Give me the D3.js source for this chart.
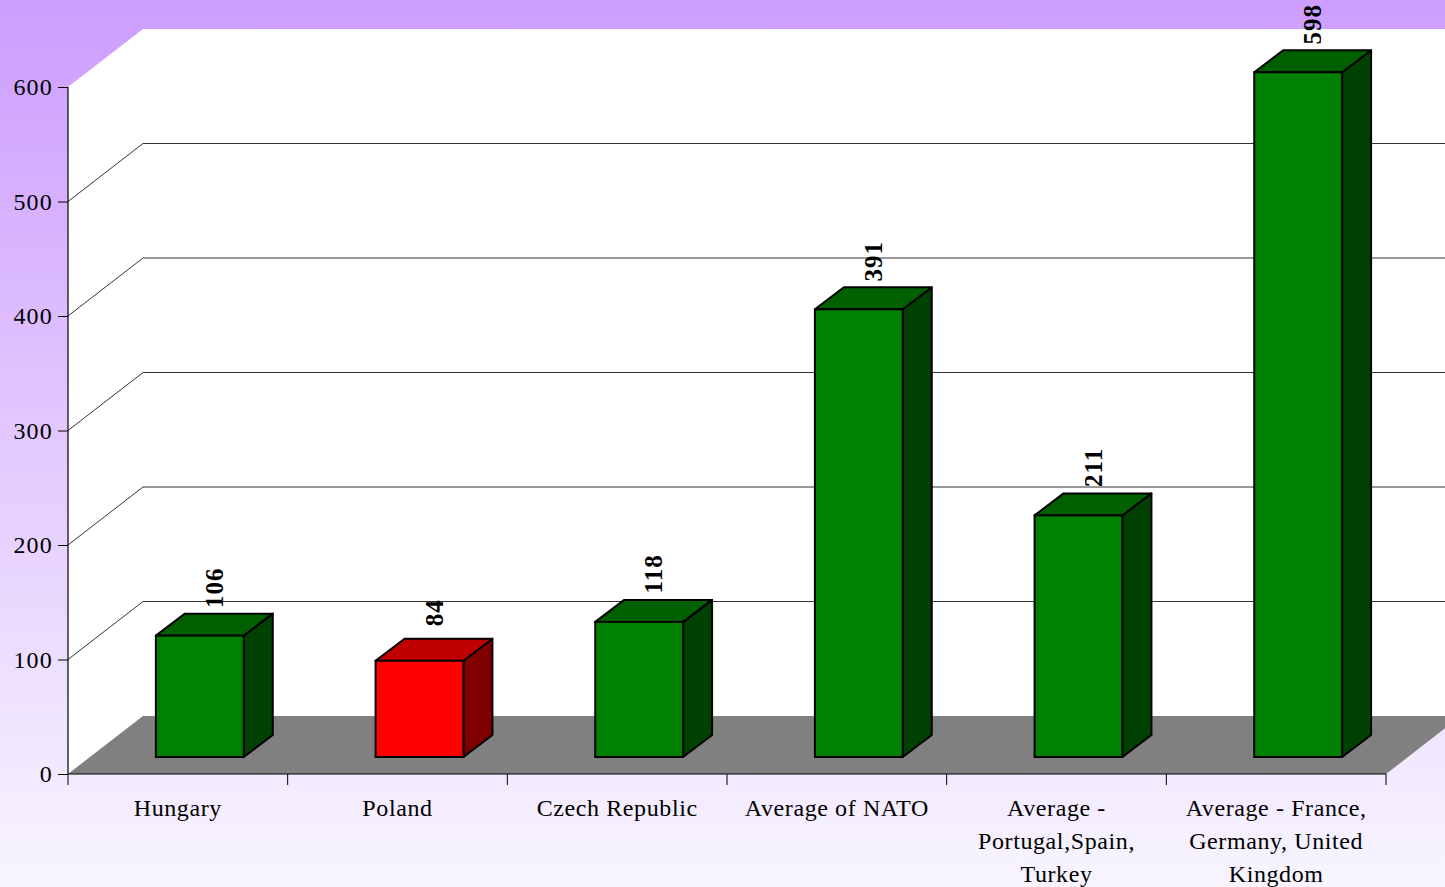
<!DOCTYPE html>
<html><head><meta charset="utf-8">
<script src="https://cdn.jsdelivr.net/npm/d3@7"></script>
<style>html,body{margin:0;padding:0;overflow:hidden;}svg{display:block;}</style>
</head><body>
<script>
const categories = ["Hungary","Poland","Czech Republic","Average of NATO","Average - Portugal,Spain, Turkey","Average - France, Germany, United Kingdom"];
const values = [106, 84, 118, 391, 211, 598];
const highlight = [false, true, false, false, false, false];
const yTicks = [0, 100, 200, 300, 400, 500, 600];

const W = 1445, H = 887;
const x0 = 68, x1 = 1386, yBottom = 774, yTop = 87;
const depthX = 75, depthY = -58;          // full 3D depth offset
const barOffX = 22, barOffY = -17;        // bar front plane offset
const barDX = 29, barDY = -22;            // bar depth

const svg = d3.select("body").append("svg").attr("width", W).attr("height", H);
const defs = svg.append("defs");
const grad = defs.append("linearGradient").attr("id","bg").attr("x1",0).attr("y1",0).attr("x2",0).attr("y2",1);
grad.append("stop").attr("offset","0").attr("stop-color","#cd9dff");
grad.append("stop").attr("offset","1").attr("stop-color","#f8f5ff");
svg.append("rect").attr("width",W).attr("height",H).attr("fill","url(#bg)");

const y = d3.scaleLinear().domain([0,600]).range([yBottom, yTop]);
const x = d3.scaleBand().domain(categories).range([x0, x1]).paddingInner(0).paddingOuter(0);
const bw = x.bandwidth() * 0.4;

// walls
svg.append("polygon").attr("points", [[x0+depthX, y(600)+depthY],[W+20, y(600)+depthY],[W+20, y(0)+depthY],[x0+depthX, y(0)+depthY]].join(" ")).attr("fill","#fff");
svg.append("polygon").attr("points", [[x0, y(600)],[x0+depthX, y(600)+depthY],[x0+depthX, y(0)+depthY],[x0, y(0)]].join(" ")).attr("fill","#fff");

// gridlines
const gl = yTicks.filter(d => d > 0 && d < 600);
svg.selectAll(".gh").data(gl).enter().append("line")
  .attr("x1", x0+depthX).attr("x2", W+20)
  .attr("y1", d => y(d)+depthY).attr("y2", d => y(d)+depthY)
  .attr("stroke","#333").attr("stroke-width",1);
svg.selectAll(".gd").data(gl).enter().append("line")
  .attr("x1", x0).attr("y1", d => y(d))
  .attr("x2", x0+depthX).attr("y2", d => y(d)+depthY)
  .attr("stroke","#333").attr("stroke-width",1);

// floor
svg.append("polygon").attr("points", [[x0, y(0)],[x0+depthX, y(0)+depthY],[x1+depthX, y(0)+depthY],[x1, y(0)]].join(" ")).attr("fill","#808080");

// axes
svg.append("line").attr("x1",x0).attr("x2",x0).attr("y1",y(600)).attr("y2",y(0)).attr("stroke","#000").attr("stroke-width",1.2);
svg.append("line").attr("x1",x0).attr("x2",x1).attr("y1",y(0)).attr("y2",y(0)).attr("stroke","#000").attr("stroke-width",1.2);

const yAxis = d3.axisLeft(y).tickValues(yTicks).tickSize(10).tickPadding(5);
const ya = svg.append("g").attr("transform",`translate(${x0},0)`).call(yAxis);
ya.select(".domain").remove();
ya.selectAll("text").attr("font-family","'Liberation Serif','Times New Roman',serif").attr("font-size",24).attr("letter-spacing","1.2px").attr("fill","#000");
ya.selectAll("line").attr("stroke","#000");

// category ticks
const edges = categories.map(c => x(c)).concat([x1]);
svg.selectAll(".xt").data(edges).enter().append("line")
  .attr("x1", d=>d).attr("x2", d=>d).attr("y1", y(0)).attr("y2", y(0)+11)
  .attr("stroke","#000").attr("stroke-width",1);

// bars
const bars = svg.selectAll(".bar").data(values).enter().append("g");
bars.each(function(v, i){
  const g = d3.select(this);
  const cx = x(categories[i]) + x.bandwidth()/2 + barOffX;
  const L = cx - bw/2, R = cx + bw/2;
  const T = y(v) + barOffY, B = y(0) + barOffY;
  const red = highlight[i];
  const front = red ? "#ff0000" : "#008000";
  const top = red ? "#c00000" : "#006000";
  const side = red ? "#800000" : "#004000";
  g.append("polygon").attr("points",[[R,T],[R+barDX,T+barDY],[R+barDX,B+barDY],[R,B]].join(" ")).attr("fill",side).attr("stroke","#000").attr("stroke-width",2).attr("stroke-linejoin","round");
  g.append("polygon").attr("points",[[L,T],[L+barDX,T+barDY],[R+barDX,T+barDY],[R,T]].join(" ")).attr("fill",top).attr("stroke","#000").attr("stroke-width",2).attr("stroke-linejoin","round");
  g.append("rect").attr("x",L).attr("y",T).attr("width",bw).attr("height",B-T).attr("fill",front).attr("stroke","#000").attr("stroke-width",2);
  g.append("text").attr("transform",`translate(${cx + barDX/2},${T - 48}) rotate(-90)`)
    .attr("text-anchor","middle").attr("dominant-baseline","central")
    .attr("font-family","'Liberation Serif','Times New Roman',serif").attr("font-weight","bold").attr("font-size",25).attr("letter-spacing","1px")
    .text(v);
});

// category labels
function wrap(textSel, width){
  textSel.each(function(){
    const t = d3.select(this);
    const words = t.text().split(/\s+/);
    t.text(null);
    let line = [];
    let ts = t.append("tspan").attr("x", t.attr("x")).attr("dy", 0);
    for (const w of words){
      line.push(w);
      ts.text(line.join(" "));
      if (ts.node().getComputedTextLength() > width && line.length > 1){
        line.pop(); ts.text(line.join(" "));
        line = [w];
        ts = t.append("tspan").attr("x", t.attr("x")).attr("dy", 33).text(w);
      }
    }
  });
}
svg.selectAll(".cl").data(categories).enter().append("text")
  .attr("x", d => x(d) + x.bandwidth()/2).attr("y", 816)
  .attr("text-anchor","middle")
  .attr("font-family","'Liberation Serif','Times New Roman',serif").attr("font-size",24).attr("letter-spacing","0.6px")
  .text(d => d).call(wrap, 210);
</script>
</body></html>
